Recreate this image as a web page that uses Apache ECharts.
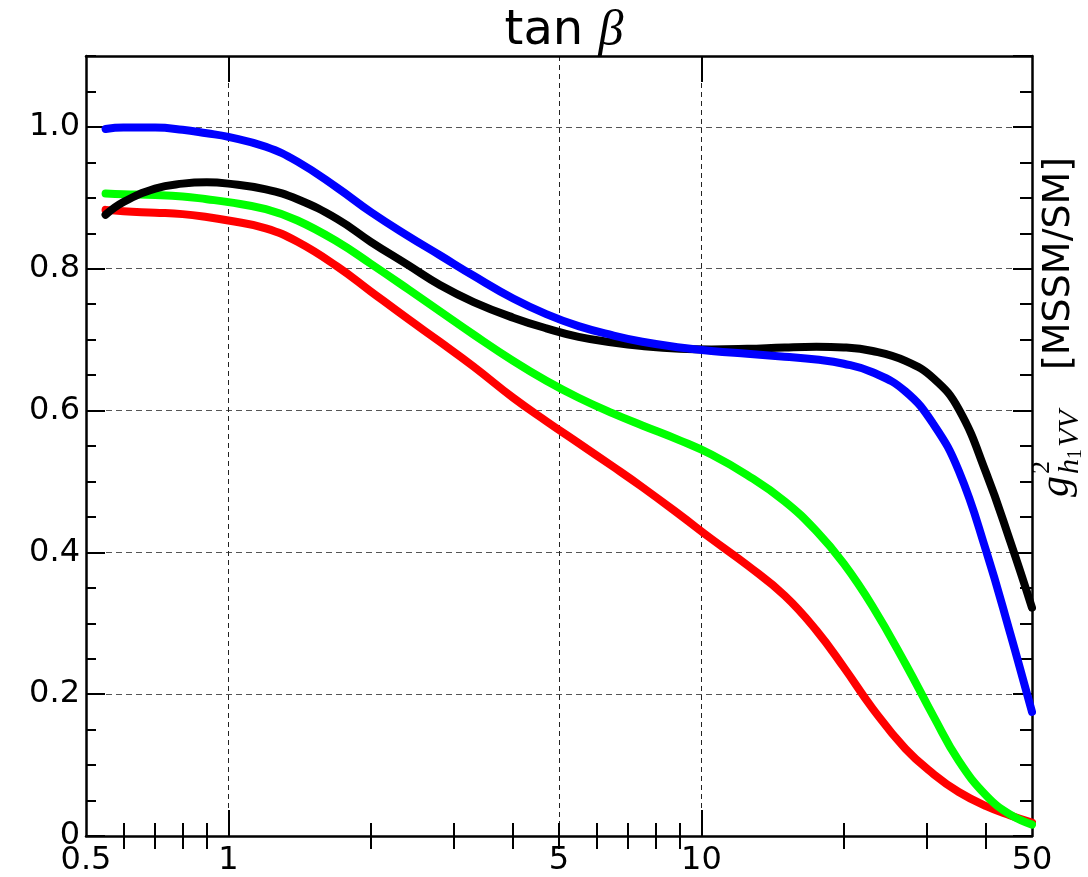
<!DOCTYPE html>
<html>
<head>
<meta charset="utf-8">
<title>tan beta</title>
<script src="https://cdn.jsdelivr.net/npm/echarts@6/dist/echarts.min.js"></script>
</head>
<body style="margin:0">
<div id="main" style="width:1088px;height:877px"></div>
<script type="text/javascript">
// tan(beta) sample points (log x axis)
var tanb = [0.55, 0.6, 0.7, 0.8, 0.9, 1, 1.2, 1.4, 1.7, 2, 2.4, 2.8, 3.3, 4, 4.7, 5.5, 6.5, 7.5, 9, 10.5, 12.5, 15, 17.5, 20, 23, 27, 31, 35, 40, 45, 50];

// g^2_{h1VV} ratio
var redVals = [0.883, 0.881, 0.879, 0.877, 0.873, 0.868, 0.857, 0.838, 0.803, 0.768, 0.729, 0.697, 0.662, 0.618, 0.585, 0.554, 0.521, 0.492, 0.453, 0.419, 0.382, 0.339, 0.290, 0.238, 0.180, 0.123, 0.087, 0.062, 0.042, 0.029, 0.019];
var greenVals = [0.906, 0.905, 0.904, 0.902, 0.898, 0.894, 0.884, 0.868, 0.838, 0.807, 0.771, 0.740, 0.707, 0.670, 0.642, 0.618, 0.596, 0.579, 0.558, 0.538, 0.509, 0.472, 0.430, 0.384, 0.324, 0.243, 0.168, 0.106, 0.057, 0.030, 0.016];
var blackVals = [0.876, 0.894, 0.913, 0.920, 0.922, 0.920, 0.912, 0.898, 0.870, 0.838, 0.805, 0.777, 0.753, 0.731, 0.716, 0.704, 0.696, 0.691, 0.687, 0.686, 0.687, 0.689, 0.690, 0.689, 0.684, 0.670, 0.645, 0.602, 0.512, 0.415, 0.322];
var blueVals = [0.997, 0.999, 0.999, 0.996, 0.991, 0.986, 0.972, 0.951, 0.914, 0.880, 0.846, 0.819, 0.790, 0.758, 0.736, 0.719, 0.706, 0.697, 0.689, 0.684, 0.680, 0.676, 0.672, 0.666, 0.654, 0.627, 0.580, 0.515, 0.402, 0.285, 0.175];

// axis ticks
var xLabels = [0.5, 1, 5, 10, 50];
var xMajor = [1, 10];
var xMinor = [0.6, 0.7, 0.8, 0.9, 2, 3, 4, 5, 6, 7, 8, 9, 20, 30, 40];
var xGrid = [1, 5, 10];

var font = 'DejaVu Sans';
var myChart = echarts.init(document.getElementById('main'));

function pairs(ys) {
    return tanb.map(function (t, i) { return [t, ys[i]]; });
}

function curve(name, color, ys) {
    return {
        name: name, type: 'line', data: pairs(ys),
        xAxisIndex: 0, yAxisIndex: 0,
        smooth: 0.45, showSymbol: false, symbol: 'none',
        lineStyle: { color: color, width: 8, cap: 'round', join: 'round' }
    };
}

var frameLine = { show: true, onZero: false, lineStyle: { color: '#000', width: 2.5 } };

function xAx(pos, ticks, len, line) {
    return {
        type: 'log', logBase: 10, min: 0.5, max: 50, position: pos,
        axisLine: line ? frameLine : { show: false },
        axisTick: { show: true, inside: true, length: len, customValues: ticks, lineStyle: { color: '#000', width: 2 } },
        axisLabel: { show: false },
        splitLine: { show: false }
    };
}

function yAx(pos, interval, len, line) {
    return {
        type: 'value', min: 0, max: 1.1, interval: interval, position: pos,
        axisLine: line ? frameLine : { show: false },
        axisTick: { show: true, inside: true, length: len, lineStyle: { color: '#000', width: 2 } },
        axisLabel: { show: false },
        splitLine: { show: false }
    };
}

var xBottom = xAx('bottom', xMajor, 26, true);
xBottom.axisLabel = { show: true, customValues: xLabels, fontSize: 32, fontFamily: font, color: '#000', margin: 9 };
var xGridAxis = xAx('bottom', xGrid, 0, false);
xGridAxis.axisTick.show = false;
xGridAxis.splitLine = { show: true, lineStyle: { color: '#222', width: 1, type: [5, 4] } };

var yLeft = yAx('left', 0.2, 19, true);
yLeft.axisLabel = {
    show: true, fontSize: 32, fontFamily: font, color: '#000', margin: 6, showMaxLabel: false,
    formatter: function (v) { return v > 1.05 ? '' : (v === 0 ? '0' : v.toFixed(1)); }
};
yLeft.splitLine = { show: true, lineStyle: { color: '#555', width: 1, type: [6, 4] } };

var serif = 'Liberation Serif';

myChart.setOption({
    animation: false,
    backgroundColor: '#fff',
    title: {
        text: '{a|tan }{b|β}', left: 559, top: 2, textAlign: 'center',
        textStyle: {
            fontWeight: 'normal',
            rich: {
                a: { fontSize: 48, fontFamily: font, fontWeight: 'normal', color: '#000' },
                b: { fontSize: 50, fontFamily: serif, fontStyle: 'italic', fontWeight: 'normal', color: '#000' }
            }
        }
    },
    grid: { left: 86, right: 56, top: 56, bottom: 41, containLabel: false },
    xAxis: [xBottom, xAx('bottom', xMinor, 13, false), xAx('top', xMajor, 26, true), xAx('top', xMinor, 13, false), xGridAxis],
    yAxis: [yLeft, yAx('left', 0.05, 10, false), yAx('right', 0.2, 19, true), yAx('right', 0.05, 12, false)],
    graphic: [{
        type: 'group', x: 1059, y: 497, rotation: Math.PI / 2,
        children: [
            { type: 'text', x: 0, y: -2, style: { text: 'g', fontSize: 42, fontFamily: serif, fontStyle: 'italic', fill: '#000', align: 'left', verticalAlign: 'middle' } },
            { type: 'text', x: 23, y: -17, style: { text: '2', fontSize: 26, fontFamily: serif, fill: '#000', align: 'left', verticalAlign: 'middle' } },
            { type: 'text', x: 23, y: 11, style: { text: 'h', fontSize: 30, fontFamily: serif, fontStyle: 'italic', fill: '#000', align: 'left', verticalAlign: 'middle' } },
            { type: 'text', x: 38, y: 17, style: { text: '1', fontSize: 20, fontFamily: serif, fill: '#000', align: 'left', verticalAlign: 'middle' } },
            { type: 'text', x: 50, y: 11, style: { text: 'VV', fontSize: 30, fontFamily: serif, fontStyle: 'italic', fill: '#000', align: 'left', verticalAlign: 'middle' } },
            { type: 'text', x: 127, y: 0, style: { text: '[MSSM/SM]', fontSize: 38, fontFamily: font, fill: '#000', align: 'left', verticalAlign: 'middle' } }
        ]
    }],
    series: [
        curve('red', '#ff0000', redVals),
        curve('green', '#00ff00', greenVals),
        curve('black', '#000000', blackVals),
        curve('blue', '#0000ff', blueVals)
    ]
});
</script>
</body>
</html>
